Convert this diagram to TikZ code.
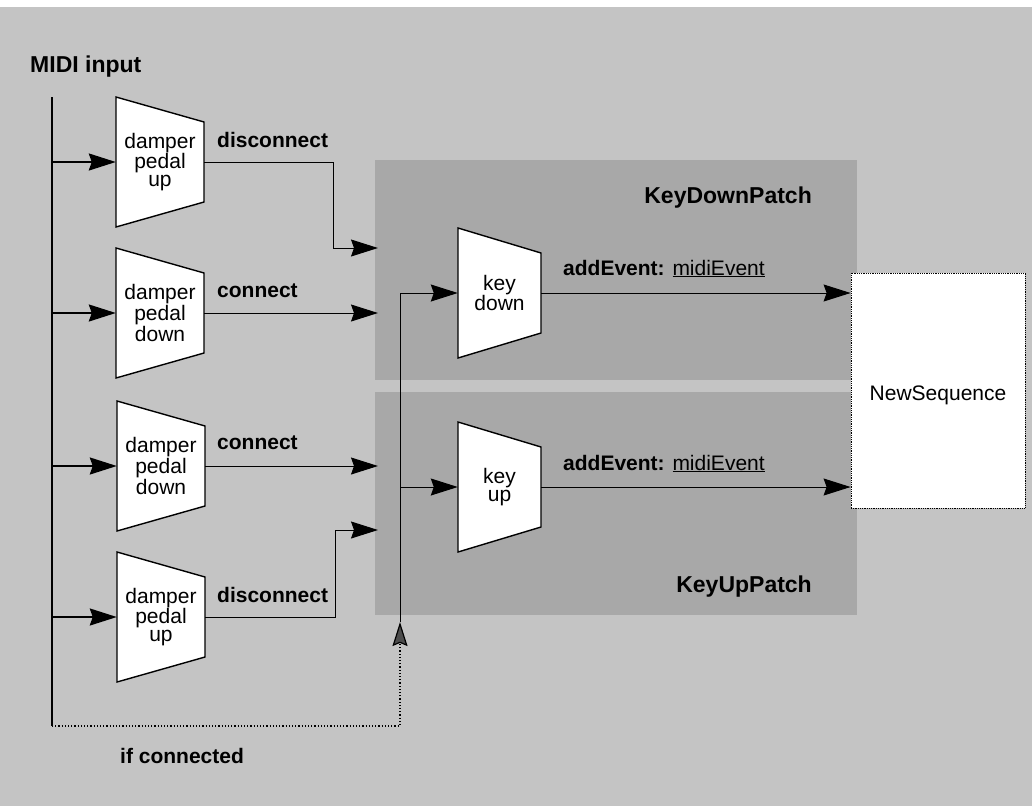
\documentclass[tikz,border=0pt]{standalone}
\usepackage{fontspec}
\setmainfont{Liberation Sans}
\usetikzlibrary{arrows.meta,calc}
\newcommand\trapnode[5]{%
  \draw[trap] ({#2-#4},{#3-65}) -- ({#2+#4},{#3-40}) -- ({#2+#4},{#3+40}) -- ({#2-#4},{#3+65}) -- cycle;
  \node[box,minimum width={2*#4},minimum height=130] (#1) at (#2,#3) {#5};}
\begin{document}
\begin{tikzpicture}[x=1pt,y=-1pt,
  arr/.style={-{Stealth[length=27pt 0 0,width=17pt 0 0,inset=3pt]}},
  thinline/.style={line width=1pt},
  thickline/.style={line width=2pt},
  trap/.style={draw=black,line width=1.4pt,fill=white,line join=miter},
  lab/.style={font=\fontsize{21}{21}\selectfont\bfseries,anchor=base west,inner sep=0},
  title/.style={font=\fontsize{23}{23}\selectfont\bfseries,inner sep=0},
  box/.style={font=\fontsize{21}{18}\selectfont,align=center,inner sep=0},
  bgfill/.style={fill=black!23},
  panelfill/.style={fill=black!34},
]
\useasboundingbox (0,0) rectangle (1032,806);
\fill[white] (0,0) rectangle (1032,806);
\fill[bgfill] (0,7) rectangle (1032,806);
% patch panels
\fill[panelfill] (375,160) rectangle (857,380);
\fill[panelfill] (375,392) rectangle (857,615);
\node[title,anchor=base east] (kdp) at (812,203) {KeyDownPatch};
\node[title,anchor=base east] (kup) at (812,592) {KeyUpPatch};

% titles
\node[title,anchor=base west] (midi) at (30,72) {MIDI input};
\node[lab] (ifc) at (120,763) {if connected};

% main input line
\coordinate (top) at (52,97);
\coordinate (bot) at (52,726);
\draw[thickline] (top) -- (bot);

% damper filters
\trapnode{d1}{160}{162}{44}{damper\\pedal\\up}
\trapnode{d2}{160}{313}{44}{damper\\pedal\\down}
\trapnode{d3}{161}{466}{44}{damper\\pedal\\down}
\trapnode{d4}{161}{617}{44}{damper\\pedal\\up}

\foreach \n in {d1,d2,d3,d4}
  \draw[arr,thickline] (top |- \n.west) -- (\n.west);

% outputs of dampers
\coordinate (t1) at (378,248);
\coordinate (t2) at (378,313);
\coordinate (t3) at (378,466);
\coordinate (t4) at (378,530);
\draw[arr,thinline] (d1.east) -- (333,162) |- (t1);
\draw[arr,thinline] (d2.east) -- (t2);
\draw[arr,thinline] (d3.east) -- (t3);
\draw[arr,thinline] (d4.east) -- (335,617) |- (t4);
\node[lab] (l1) at (217,147) {disconnect};
\node[lab] (l2) at (217,297) {connect};
\node[lab] (l3) at (217,449) {connect};
\node[lab] (l4) at (217,602) {disconnect};

% key filters
\trapnode{kd}{499.5}{293}{41.5}{key\\down}
\trapnode{ku}{499.5}{487}{41.5}{key\\up}

% new sequence
\node[draw,densely dotted,line width=0.8pt,fill=white,minimum width=174,minimum height=235] (ns) at (938,390.5) {};
\node[font=\fontsize{21}{21}\selectfont,inner sep=0] (nst) at (938,395) {NewSequence};

% feedback path
\coordinate (vk) at (400,622);
\draw[dotted,line width=1.2pt,-{Stealth[length=24pt 0 0,width=15pt 0 0,inset=3pt,fill=black!70,color=black]}]
  (bot) -- (400,726) -- (vk);
\draw[arr,thinline] (vk) |- (kd.west);
\draw[arr,thinline] (vk) |- (ku.west);

% key outputs
\draw[arr,thinline] (kd.east) -- (ns.west |- kd.east);
\draw[arr,thinline] (ku.east) -- (ns.west |- ku.east);
\node[lab] (ae1) at (563,275) {addEvent: \mdseries\underline{midiEvent}};
\node[lab] (ae2) at (563,470) {addEvent: \mdseries\underline{midiEvent}};
\end{tikzpicture}
\end{document}
